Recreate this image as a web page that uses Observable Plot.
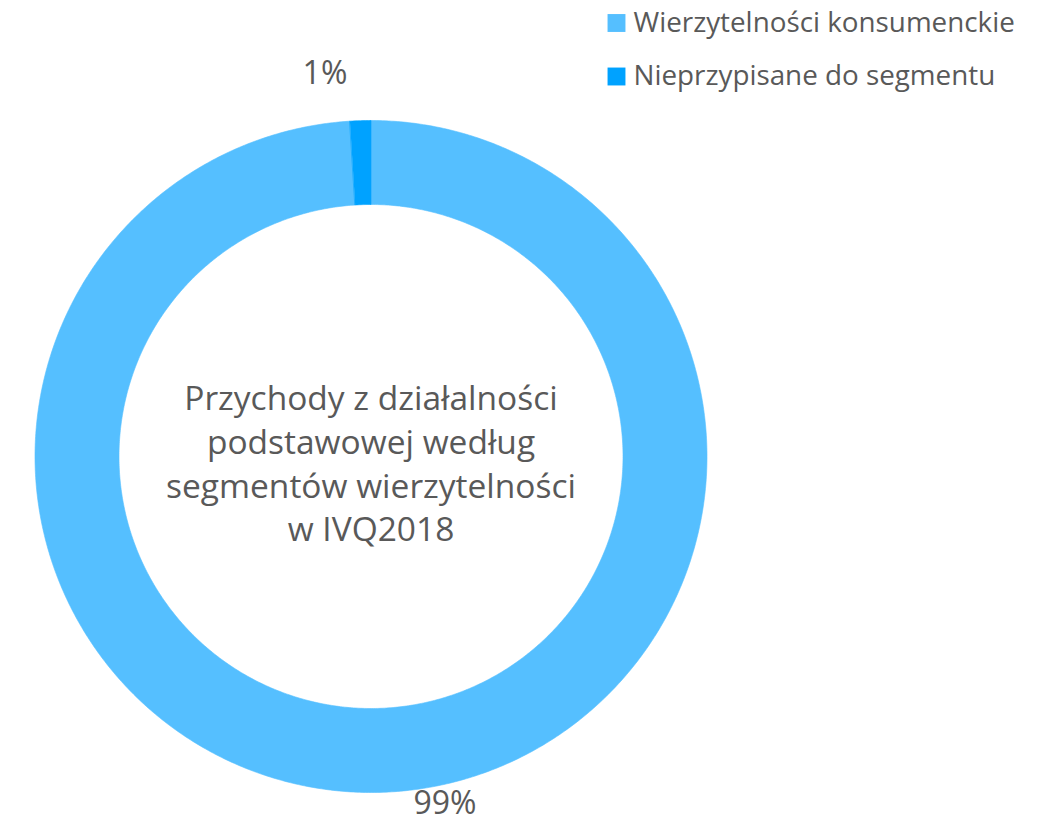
<!DOCTYPE html>
<html><head><meta charset="utf-8">
<script src="https://cdn.jsdelivr.net/npm/d3@7"></script>
<script src="https://cdn.jsdelivr.net/npm/@observablehq/plot@0.6"></script>
<style>
body{margin:0;background:#fff}
#chart svg{display:block}
</style>
</head><body><div id="chart"></div>
<script>
const categories = ["Wierzytelności konsumenckie", "Nieprzypisane do segmentu"];
const shares = [99, 1];
const labels = ["99%", "1%"];
const colors = ["#55BFFF", "#00A2FF"];
const centerTitle = "Przychody z działalności\npodstawowej według\nsegmentów wierzytelności\nw IVQ2018";

const W = 1048, H = 823;
const cx = 370.5, cy = 456, R = 336, R0 = 252;
const textColor = "#595959";
const font = "'Open Sans', sans-serif";

const data = categories.map((c, i) => ({category: c, value: shares[i], label: labels[i]}));
const arcs = d3.pie().sort(null).value(d => d.value)(data);

const pts = [];
for (const a of arcs) {
  const n = Math.max(8, Math.ceil((a.endAngle - a.startAngle) / (Math.PI / 360)));
  for (let k = 0; k <= n; k++) {
    const t = a.startAngle + (a.endAngle - a.startAngle) * k / n;
    pts.push({category: a.data.category, x: cx + R * Math.sin(t), y: cy - R * Math.cos(t)});
  }
  for (let k = n; k >= 0; k--) {
    const t = a.startAngle + (a.endAngle - a.startAngle) * k / n;
    pts.push({category: a.data.category, x: cx + R0 * Math.sin(t), y: cy - R0 * Math.cos(t)});
  }
}

const mid = a => (a.startAngle + a.endAngle) / 2;
const labelPos = (a, rr) => ({label: a.data.label, x: cx + rr * Math.sin(mid(a)), y: cy - rr * Math.cos(mid(a))});

const legend = categories.map((c, i) => ({category: c, x: 616, y: 22.5 + i * 53.5}));

const chart = Plot.plot({
  width: W, height: H,
  margin: 0,
  style: {fontFamily: font, background: "#fff"},
  x: {domain: [0, W], range: [0, W], axis: null},
  y: {domain: [0, H], range: [0, H], axis: null},
  color: {domain: categories, range: colors},
  marks: [
    Plot.line(pts, {x: "x", y: "y", z: "category", fill: "category", stroke: "category", strokeWidth: 0.6, curve: "linear-closed"}),
    Plot.text([centerTitle], {x: () => cx, y: () => cy + 5, text: d => d, fontSize: 33.5, lineHeight: 1.31, fill: textColor, textAnchor: "middle", lineAnchor: "middle"}),
    Plot.text([labelPos(arcs[0], R * 1.04)], {x: "x", y: "y", text: "label", dx: 63, dy: -2, fontSize: 32, fill: textColor}),
    Plot.text([labelPos(arcs[1], R * 1.14)], {x: "x", y: "y", text: "label", dx: -34, fontSize: 32, fill: textColor}),
    Plot.dot(legend, {x: "x", y: "y", fill: "category", symbol: "square", r: 10.1}),
    Plot.text(legend, {x: d => d.x + 17, y: "y", text: "category", textAnchor: "start", fontSize: 27.8, fill: textColor})
  ]
});
document.getElementById("chart").append(chart);
</script>
</body></html>
